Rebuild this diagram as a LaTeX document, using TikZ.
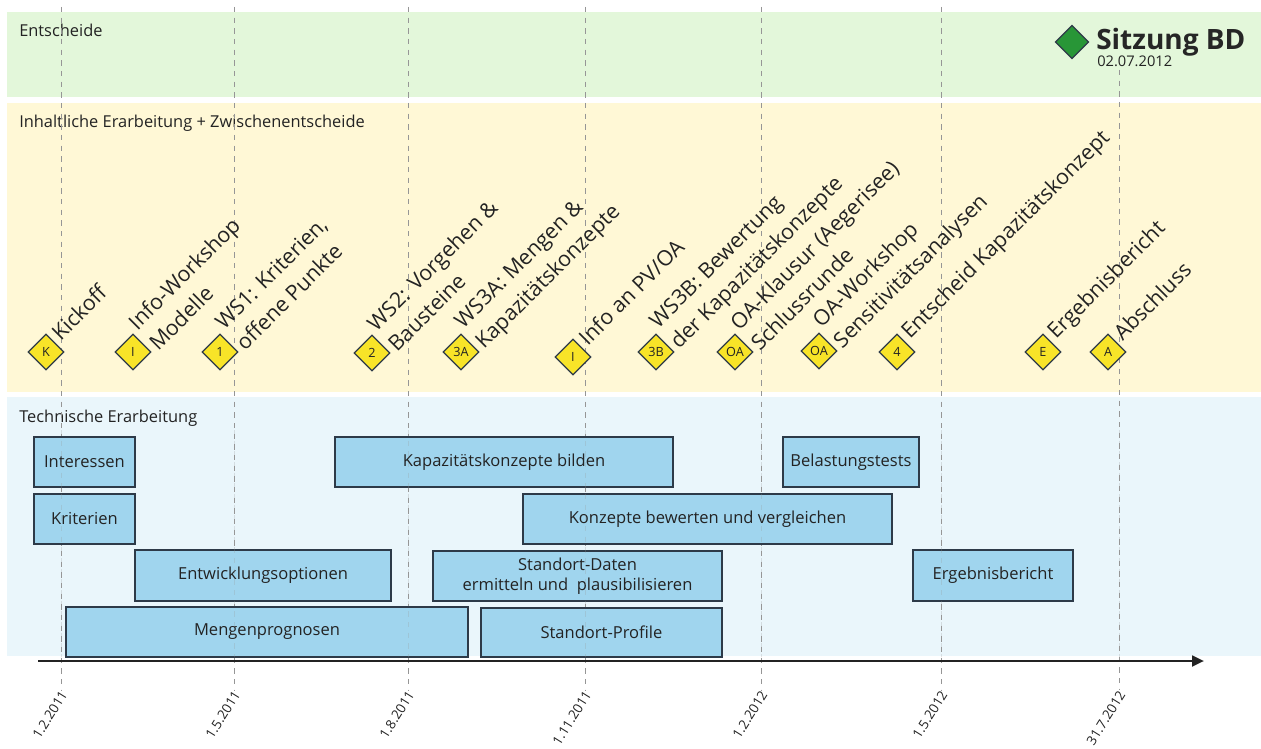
\documentclass[tikz,border=0pt]{standalone}
\usepackage{fontspec}
\setmainfont{Open Sans}
\usetikzlibrary{shapes.geometric,arrows.meta}
\definecolor{bandgreen}{RGB}{227,247,218}
\definecolor{bandyellow}{RGB}{255,248,214}
\definecolor{bandblue}{RGB}{234,246,251}
\definecolor{boxfill}{RGB}{160,213,238}
\definecolor{boxline}{RGB}{45,58,72}
\definecolor{msyellow}{RGB}{248,228,40}
\definecolor{msgreen}{RGB}{40,150,55}
\definecolor{txt}{RGB}{35,35,35}
\definecolor{gridc}{RGB}{150,150,150}
\newcommand\tbox[6]{\node[taskbox, minimum width={(#4-#2)*0.75pt}, minimum height={(#5-#3)*0.75pt}] (#1) at ({(#2+#4)/2},{(#3+#5)/2}) {#6};}
\begin{document}
\begin{tikzpicture}[x=0.75pt,y=-0.75pt,
  header/.style={anchor=west, font=\fontsize{12.3}{14}\selectfont, text=txt, inner sep=0},
  taskbox/.style={draw=boxline, line width=1.3pt, fill=boxfill, text=txt, font=\fontsize{12.4}{15}\selectfont, align=center, inner sep=0},
  msdiamond/.style={diamond, draw=boxline, line width=0.9pt, fill=msyellow, minimum width=27pt, minimum height=27pt, inner sep=0, font=\fontsize{9.5}{9.5}\selectfont, text=txt},
  mslabel/.style={rotate=45, anchor=west, align=left, inner sep=0, font=\fontsize{16}{22}\selectfont, text=txt},
  datelabel/.style={rotate=58, anchor=east, inner sep=0, font=\fontsize{10}{11}\selectfont, text=txt},
  gridline/.style={draw=gridc, line width=0.6pt, dash pattern=on 4pt off 4pt},
  axisline/.style={draw=txt, line width=2pt, -{Triangle[length=9pt,width=8pt]}}
]
\path[use as bounding box] (0,0) rectangle (1261,749);
% bands
\fill[bandgreen] (7,12) rectangle (1261,97);
\fill[bandyellow] (7,103) rectangle (1261,392);
\fill[bandblue] (7,397) rectangle (1261,656);
\node[header] (h1) at (19,30) {Entscheide};
\node[header] (h2) at (19,123) {Inhaltliche Erarbeitung + Zwischenentscheide};
\node[header] (h3) at (19,418) {Technische Erarbeitung};
% grid lines
\foreach \gx in {61,234,408,585,761,941} \draw[gridline] (\gx,7) -- (\gx,690);
\draw[gridline] (1119,70) -- (1119,690);
% task boxes
\tbox{interessen}{34}{437}{135}{487}{Interessen}
\tbox{kriterien}{34}{494}{135}{544}{Kriterien}
\tbox{entwicklung}{135}{550}{391}{601}{Entwicklungsoptionen}
\tbox{mengen}{66}{607}{468}{657}{Mengenprognosen}
\tbox{kapazitaet}{335}{437}{673}{487}{Kapazitätskonzepte bilden}
\tbox{bewerten}{523}{494}{892}{544}{Konzepte bewerten und vergleichen}
\tbox{standortdaten}{433}{551}{722}{601}{Standort-Daten\\ermitteln und\ \ plausibilisieren}
\tbox{standortprofile}{481}{608}{722}{657}{Standort-Profile}
\tbox{belastung}{783}{437}{919}{487}{Belastungstests}
\tbox{ergebnis}{913}{550}{1073}{601}{Ergebnisbericht}
% faint grid over boxes
\foreach \gx in {61,234,408,585,761,941,1119} \draw[gridline, opacity=0.25] (\gx,430) -- (\gx,657);
% axis
\coordinate (axstart) at (38,661);
\coordinate (axend) at (1204,661);
\draw[axisline] (axstart) -- (axend);
% dates
\node[datelabel] (d1) at (64,692) {1.2.2011};
\node[datelabel] (d2) at (237,692) {1.5.2011};
\node[datelabel] (d3) at (411,692) {1.8.2011};
\node[datelabel] (d4) at (588,692) {1.11.2011};
\node[datelabel] (d5) at (764,692) {1.2.2012};
\node[datelabel] (d6) at (944,692) {1.5.2012};
\node[datelabel] (d7) at (1122,692) {31.7.2012};
% milestones
\node[msdiamond] (m1) at (46,352) {K};
\node[msdiamond] (m2) at (133,352) {I};
\node[msdiamond] (m3) at (220,352) {1};
\node[msdiamond] (m4) at (372,353) {2};
\node[msdiamond] (m5) at (461,352) {3A};
\node[msdiamond] (m6) at (573,357) {I};
\node[msdiamond] (m7) at (656,352) {3B};
\node[msdiamond] (m8) at (735,352) {OA};
\node[msdiamond] (m9) at (819,351) {OA};
\node[msdiamond] (m10) at (897,352) {4};
\node[msdiamond] (m11) at (1043,352) {E};
\node[msdiamond] (m12) at (1108,352) {A};
\node[mslabel] (l1) at ([shift={(9,-16)}]m1.center) {Kickoff};
\node[mslabel] (l2) at ([shift={(9,-16)}]m2.center) {Info-Workshop\\Modelle};
\node[mslabel] (l3) at ([shift={(9,-16)}]m3.center) {WS1: Kriterien,\\offene Punkte};
\node[mslabel] (l4) at ([shift={(9,-16)}]m4.center) {WS2: Vorgehen \&\\Bausteine};
\node[mslabel] (l5) at ([shift={(9,-16)}]m5.center) {WS3A: Mengen \&\\Kapazitätskonzepte};
\node[mslabel] (l6) at ([shift={(9,-16)}]m6.center) {Info an PV/OA};
\node[mslabel] (l7) at ([shift={(9,-16)}]m7.center) {WS3B: Bewertung\\der Kapazitätskonzepte};
\node[mslabel] (l8) at ([shift={(9,-16)}]m8.center) {OA-Klausur (Aegerisee)\\Schlussrunde};
\node[mslabel] (l9) at ([shift={(9,-16)}]m9.center) {OA-Workshop\\Sensitivitätsanalysen};
\node[mslabel] (l10) at ([shift={(9,-16)}]m10.center) {Entscheid Kapazitätskonzept};
\node[mslabel] (l11) at ([shift={(9,-16)}]m11.center) {Ergebnisbericht};
\node[mslabel] (l12) at ([shift={(9,-16)}]m12.center) {Abschluss};
% Sitzung BD
\node[diamond, draw=boxline, line width=0.9pt, fill=msgreen, minimum width=25pt, minimum height=25pt, inner sep=0] (sb) at (1072,42) {};
\node[anchor=base west, inner sep=0, font=\bfseries\fontsize{21}{23}\selectfont, text=black!85] (sbt) at (1096,50) {Sitzung BD};
\node[anchor=north west, inner sep=0, font=\fontsize{11}{12}\selectfont, text=txt] (sbd) at (1097,56) {02.07.2012};
\end{tikzpicture}
\end{document}
